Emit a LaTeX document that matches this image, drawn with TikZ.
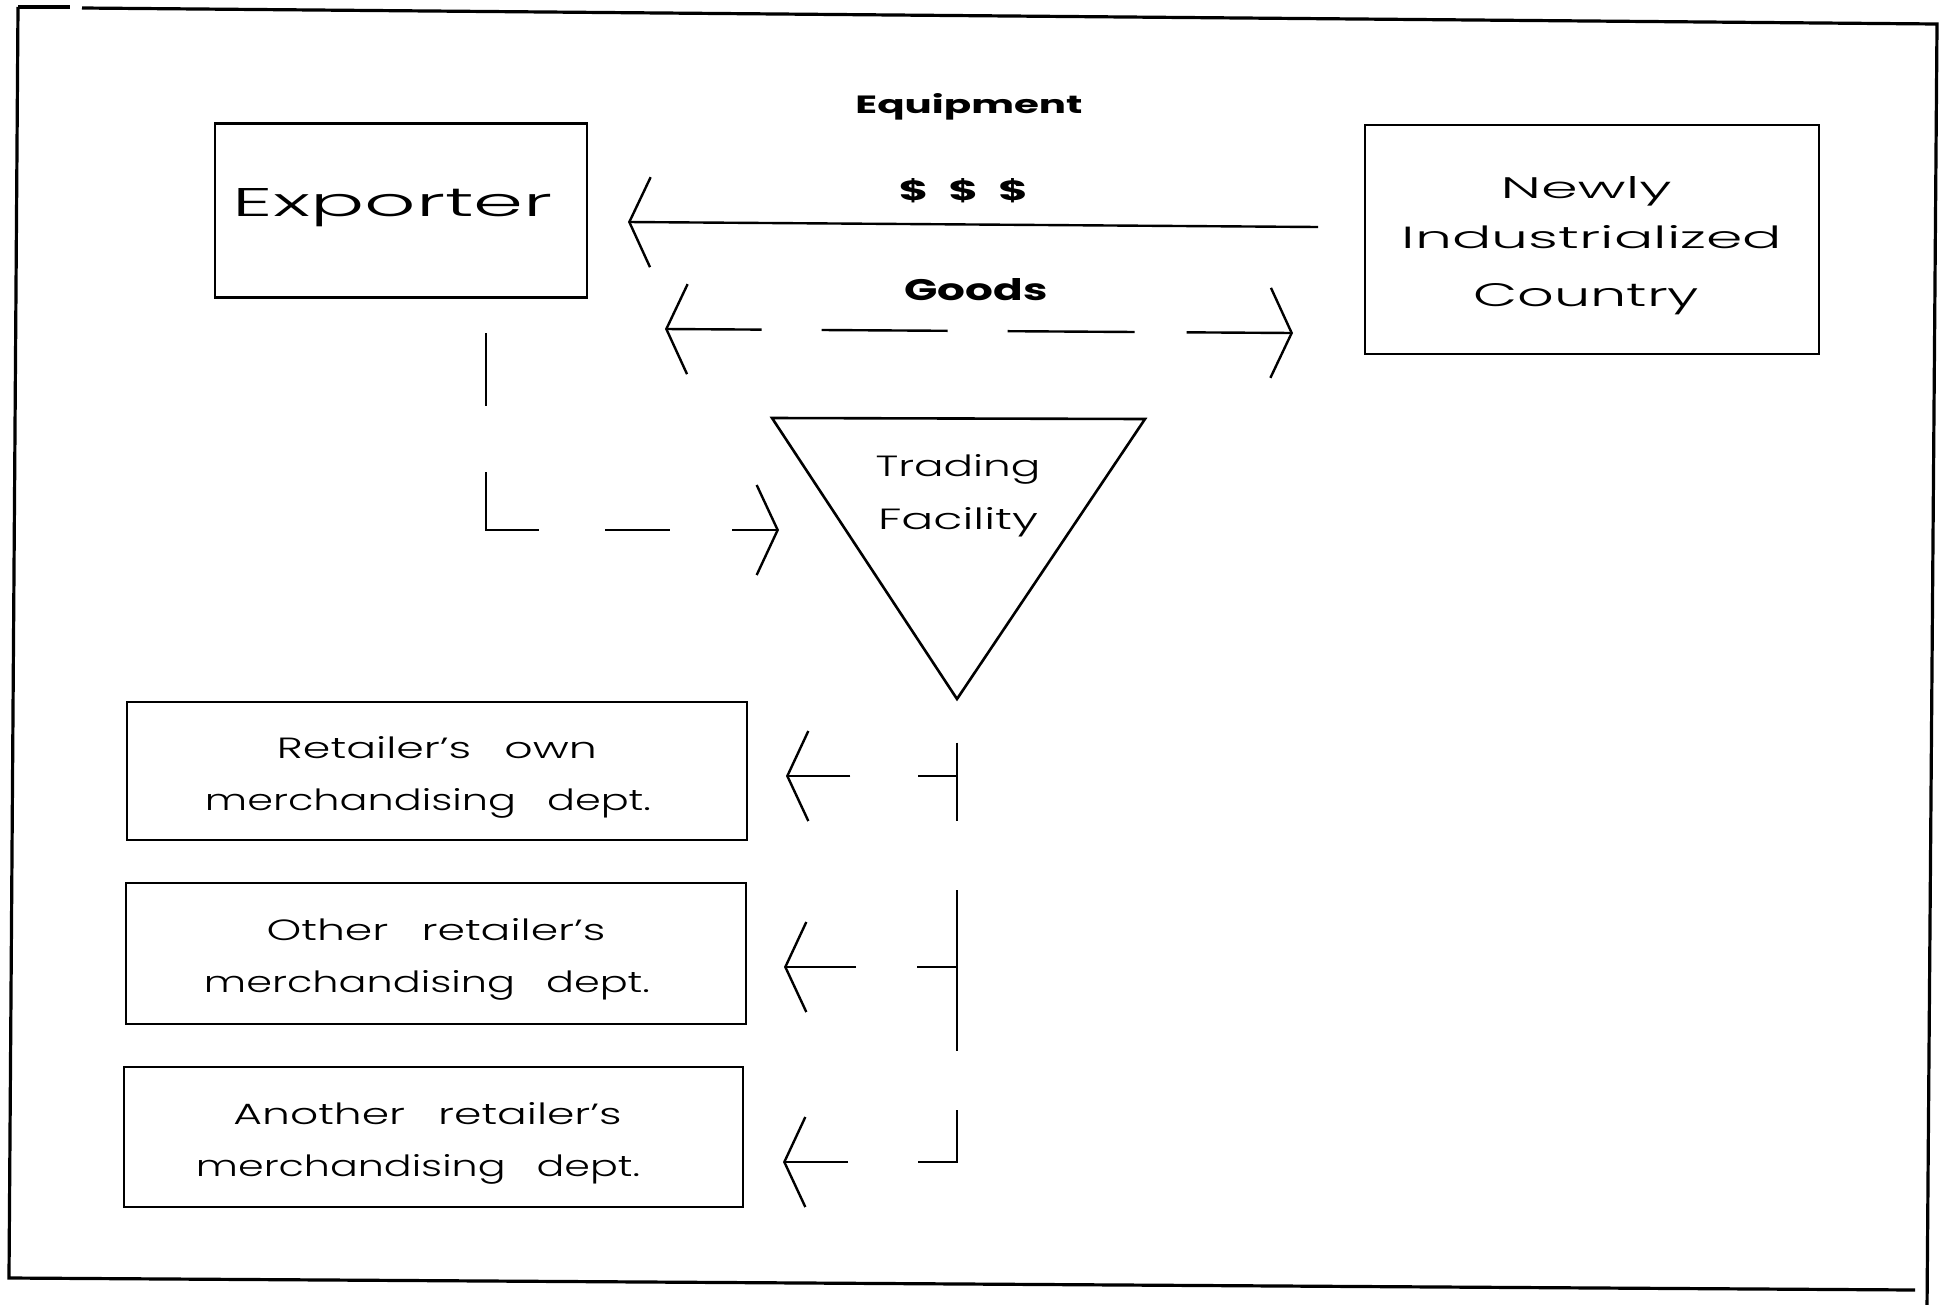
\documentclass[tikz,border=0pt]{standalone}
\usepackage{graphicx}
\usepackage{fontspec}
\usetikzlibrary{arrows.meta}
\newfontfamily\plotfont{Poppins Light}
\newfontfamily\plotbold{Poppins}
% one line of lettering, set to a given width and height
\newcommand\fitline[3]{\resizebox{#1pt}{#2pt}{#3}}
\newcommand\wgap{\hspace{0.75em}}
% invisible strut that lowers a text block inside its box
\newcommand\lowerby[1]{\rule{0pt}{#1pt}}
\begin{document}
\begin{tikzpicture}[x=1pt,y=-1pt,
  frame/.style={line width=3.2pt},
  box/.style={draw, line width=2.8pt, inner sep=0pt},
  outline/.style={line width=2.6pt, line join=miter},
  lbl/.style={inner sep=0pt},
  conn/.style={line width=2.4pt},
  >={Straight Barb[length=21pt,width=90pt]}]
\useasboundingbox (0,0) rectangle (1949,1304);

% outer frame
\draw[frame] (18,7) -- (70,7);
\draw[frame] (82,8) -- (1937,24) -- (1927,1310);
\draw[frame] (1915,1290) -- (9,1278) -- (18,7);

% exporter
\node[box, minimum width=372, minimum height=174] (exp) at (401,210.5) {};
\node[lbl, anchor=base, font=\plotfont] (expT) at (393,216) {\fitline{320}{28}{Exporter}};

% newly industrialized country
\node[box, minimum width=454, minimum height=229, align=center,
      font=\plotfont\fontsize{20}{50}\selectfont] (nic) at (1592,239.5)
  {\lowerby{34}\fitline{171}{22}{Newly}\hspace*{12pt}\\
   \fitline{380}{23}{Industrialized}\hspace*{12pt}\\[8pt]
   \fitline{226}{23}{Country}\hspace*{12pt}};

% trading facility
\coordinate (tfL) at (772,418);
\coordinate (tfR) at (1145,419);
\coordinate (tfA) at (957,699);
\draw[outline] (tfL) -- (tfR) -- (tfA) -- cycle;
\node[lbl, align=center, font=\plotfont\fontsize{20}{53}\selectfont] (tf) at (958,496)
  {\fitline{165}{22}{Trading}\\ \fitline{160}{22}{Facility}};

% flow labels
\node[lbl, anchor=base, font=\plotbold\bfseries] (equip) at (969,113) {\fitline{227}{20}{Equipment}};
\node[lbl, font=\plotbold\bfseries] (cash) at (963.5,191) {\fitline{129}{22}{\$\hspace{0.45em}\$\hspace{0.45em}\$}};
\node[lbl, anchor=base, font=\plotbold\bfseries] (goods) at (976,300) {\fitline{143}{22}{Goods}};

% retailers
\node[box, minimum width=620, minimum height=138, align=center,
      font=\plotfont\fontsize{20}{52}\selectfont] (r1) at (437,771)
  {\lowerby{34}\fitline{320}{22}{Retailer’s\wgap own}\\
   \fitline{446}{22}{merchandising\wgap dept.}\hspace*{18pt}};
\node[box, minimum width=620, minimum height=141, align=center,
      font=\plotfont\fontsize{20}{52}\selectfont] (r2) at (436,953.5)
  {\lowerby{34}\fitline{339}{22}{Other\wgap retailer’s}\\
   \fitline{446}{22}{merchandising\wgap dept.}\hspace*{18pt}};
\node[box, minimum width=619, minimum height=140, align=center,
      font=\plotfont\fontsize{20}{52}\selectfont] (r3) at (433.5,1137)
  {\lowerby{34}\fitline{388}{22}{Another\wgap retailer’s}\hspace*{12pt}\\
   \fitline{444}{22}{merchandising\wgap dept.}\hspace*{31pt}};

% connector end points
\coordinate (eqR) at (1318,227);
\coordinate (eqL) at (628,222);
\coordinate (gdL) at (665,329);
\coordinate (gdR) at (1293,333);
\coordinate (expOut) at (486,333);
\coordinate (tfIn) at (779,530);
\coordinate (br1) at (957,776);
\coordinate (br2) at (957,967);
\coordinate (tip1) at (786,776);
\coordinate (tip2) at (784,967);
\coordinate (tip3) at (783,1162);

% money and equipment flow back to the exporter
\draw[conn, ->] (eqR) -- (eqL);
% goods exchanged both ways
\draw[conn, <->, dash pattern=on 94pt off 60pt on 126pt off 60pt on 127pt off 52pt on 120pt off 100pt]
  (gdL) -- (gdR);
% exporter to trading facility
\draw[conn, ->, dash pattern=on 73pt off 66pt on 111pt off 66pt on 65pt off 62pt on 60pt off 100pt]
  (expOut) |- (tfIn);
% distribution from the trading facility
\draw[conn, ->, dash pattern=on 78.3pt off 69.6pt on 160.3pt off 59.7pt on 90.8pt off 69.6pt on 80pt off 43.5pt,
  dash phase=608.3pt] (tfA) |- (tip3);
\draw[conn, ->, dash pattern=on 38.6pt off 68pt on 80pt off 100pt] (br1) -- (tip1);
\draw[conn, ->, dash pattern=on 40pt off 61pt on 80pt off 100pt] (br2) -- (tip2);
\end{tikzpicture}
\end{document}
